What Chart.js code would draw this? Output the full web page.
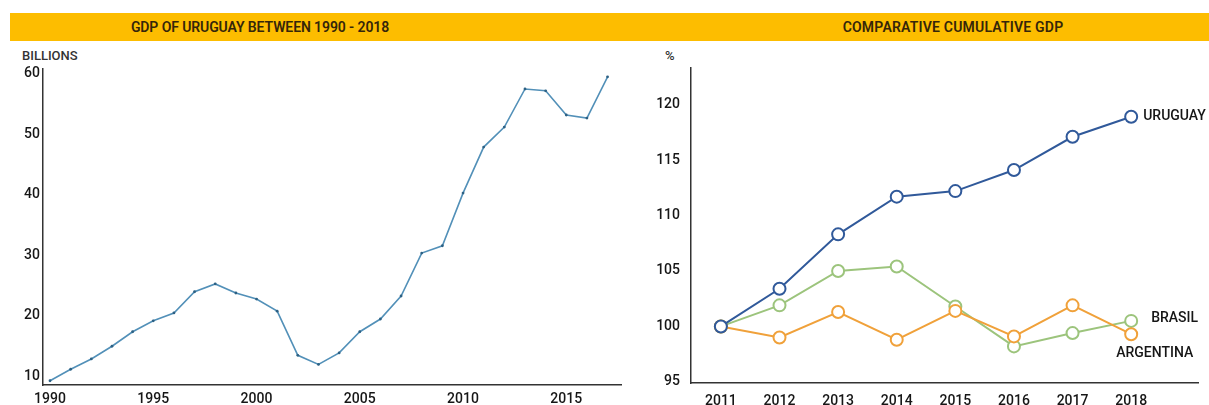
<!DOCTYPE html>
<html>
<head>
<meta charset="utf-8">
<script src="https://cdn.jsdelivr.net/npm/chart.js@4.4.1/dist/chart.umd.min.js"></script>
<style>
  html, body { margin: 0; padding: 0; background: #fff; }
  body { width: 1209px; height: 405px; position: relative; overflow: hidden; font-family: Roboto, sans-serif; }
  .band { position: absolute; left: 10px; top: 13px; width: 1199px; height: 28px; background: #fdbd00; }
  .band span { position: absolute; top: 0; line-height: 28px; font-size: 14px; font-weight: 600; color: #35260a; transform: translateX(-50%); white-space: nowrap; letter-spacing: -0.1px; }
  .unit { position: absolute; font-size: 13px; font-weight: 500; color: #333; }
  .box { position: absolute; top: 45px; height: 360px; }
</style>
</head>
<body>
<div class="band">
  <span style="left: 250px;">GDP OF URUGUAY BETWEEN 1990 - 2018</span>
  <span style="left: 943px; letter-spacing: 0.2px;">COMPARATIVE CUMULATIVE GDP</span>
</div>
<div class="unit" style="left: 22px; top: 48px;">BILLIONS</div>
<div class="unit" style="left: 665px; top: 48px;">%</div>
<div class="box" style="left: 0; width: 625px;"><canvas id="gdp" width="625" height="360"></canvas></div>
<div class="box" style="left: 620px; width: 589px;"><canvas id="cmp" width="589" height="360"></canvas></div>
<script>
// Uruguay GDP, billions of USD
const gdpYears = [1990, 1991, 1992, 1993, 1994, 1995, 1996, 1997, 1998, 1999,
                  2000, 2001, 2002, 2003, 2004, 2005, 2006, 2007, 2008, 2009,
                  2010, 2011, 2012, 2013, 2014, 2015, 2016, 2017];
const gdpBillions = [9.3, 11.2, 12.9, 15.0, 17.4, 19.2, 20.5, 24.0, 25.3, 23.8,
                     22.8, 20.8, 13.5, 12.0, 13.9, 17.4, 19.5, 23.3, 30.4, 31.6,
                     40.3, 47.9, 51.2, 57.5, 57.2, 53.2, 52.7, 59.5];
const gdpYTicks = [10, 20, 30, 40, 50, 60];
const gdpXTicks = [1990, 1995, 2000, 2005, 2010, 2015];

// cumulative GDP, 2011 = 100
const cmpYears = [2011, 2012, 2013, 2014, 2015, 2016, 2017, 2018];
const uruguay   = [100, 103.4, 108.3, 111.7, 112.2, 114.1, 117.1, 118.9];
const brasil    = [100, 101.9, 105.0, 105.4, 101.8, 98.2, 99.4, 100.5];
const argentina = [100, 99.0, 101.3, 98.8, 101.4, 99.1, 101.9, 99.3];
const cmpYTicks = [95, 100, 105, 110, 115, 120];

const tickFont = { family: 'Roboto', size: 14, weight: '500' };
const ink = '#161616';
const axisLine = { display: true, color: '#333', width: 1.5 };

const pairs = (xs, ys) => xs.map((x, i) => ({ x: x, y: ys[i] }));
const fixTicks = list => scale => { scale.ticks = list.map(v => ({ value: v })); };

new Chart(document.getElementById('gdp'), {
    type: 'line',
    data: {
        datasets: [{
            data: pairs(gdpYears, gdpBillions),
            borderColor: '#5290b8',
            borderWidth: 1.6,
            pointRadius: 1.4,
            pointBackgroundColor: '#2d6184',
            pointBorderWidth: 0,
            tension: 0
        }]
    },
    options: {
        responsive: false,
        animation: false,
        layout: { padding: { left: 0, top: 24, right: 4, bottom: 0 } },
        plugins: { legend: { display: false }, tooltip: { enabled: false } },
        scales: {
            x: {
                type: 'linear', min: 1989.66, max: 2017.65,
                afterBuildTicks: fixTicks(gdpXTicks),
                afterFit: s => { s.height = 20; },
                grid: { display: false, drawTicks: false },
                border: axisLine,
                ticks: { font: tickFont, color: ink, padding: 6, autoSkip: false, maxRotation: 0, callback: v => String(v) }
            },
            y: {
                min: 8.6, max: 60.8,
                afterBuildTicks: fixTicks(gdpYTicks),
                afterFit: s => { s.width = 43; },
                grid: { display: false, drawTicks: false },
                border: axisLine,
                ticks: { font: tickFont, color: ink, padding: 3 }
            }
        }
    }
});

// series names placed next to the last point, offsets in px
const endLabels = [
    { text: 'URUGUAY',   dx: 12,  dy: 0 },
    { text: 'BRASIL',    dx: 20,  dy: -2 },
    { text: 'ARGENTINA', dx: -15, dy: 19 }
];

const endLabelPlugin = {
    id: 'endLabels',
    afterDatasetsDraw(chart) {
        const { ctx, scales } = chart;
        ctx.save();
        ctx.font = '500 14px Roboto';
        ctx.fillStyle = ink;
        ctx.textBaseline = 'middle';
        chart.data.datasets.forEach((ds, i) => {
            const last = ds.data[ds.data.length - 1];
            const lab = endLabels[i];
            ctx.fillText(lab.text, scales.x.getPixelForValue(last.x) + lab.dx, scales.y.getPixelForValue(last.y) + lab.dy);
        });
        ctx.restore();
    }
};

const circle = color => ({
    borderColor: color,
    borderWidth: 2,
    pointRadius: 6,
    pointBorderWidth: 2,
    pointBorderColor: color,
    pointBackgroundColor: '#fff',
    tension: 0
});

new Chart(document.getElementById('cmp'), {
    type: 'line',
    data: {
        datasets: [
            Object.assign({ label: 'URUGUAY', data: pairs(cmpYears, uruguay), order: 0 }, circle('#30599a')),
            Object.assign({ label: 'BRASIL', data: pairs(cmpYears, brasil), order: 2 }, circle('#9cc47c')),
            Object.assign({ label: 'ARGENTINA', data: pairs(cmpYears, argentina), order: 1 }, circle('#f0a13a'))
        ]
    },
    options: {
        responsive: false,
        animation: false,
        layout: { padding: { left: 0, top: 23, right: 11, bottom: 0 } },
        plugins: { legend: { display: false }, tooltip: { enabled: false } },
        scales: {
            x: {
                type: 'linear', min: 2010.49, max: 2019.14,
                afterBuildTicks: fixTicks(cmpYears),
                afterFit: s => { s.height = 22; },
                grid: { display: false, drawTicks: false },
                border: axisLine,
                ticks: { font: tickFont, color: ink, padding: 10, autoSkip: false, maxRotation: 0, callback: v => String(v) }
            },
            y: {
                min: 94.9, max: 123.3,
                afterBuildTicks: fixTicks(cmpYTicks),
                afterFit: s => { s.width = 71; },
                grid: { display: false, drawTicks: false },
                border: axisLine,
                ticks: { font: tickFont, color: ink, padding: 11 }
            }
        }
    },
    plugins: [endLabelPlugin]
});
</script>
</body>
</html>
